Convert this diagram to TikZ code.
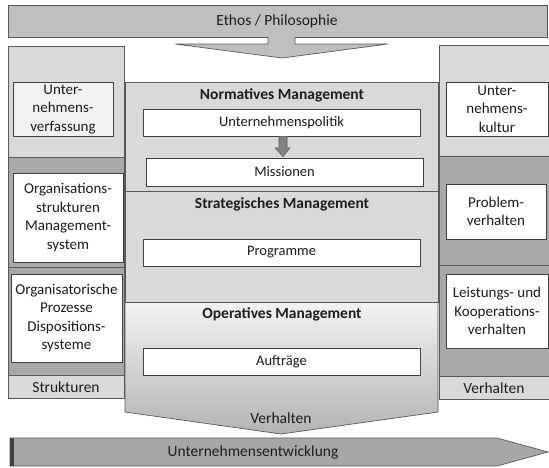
\documentclass[tikz,border=0pt]{standalone}
\usepackage{fontspec}
\setmainfont{Carlito}
\usetikzlibrary{calc}
\definecolor{txt}{HTML}{1C1C1C}
\definecolor{frameline}{HTML}{595959}
\definecolor{boxline}{HTML}{404040}
\definecolor{lightband}{HTML}{D9D9D9}
\definecolor{darkband}{HTML}{A9A9A9}
\definecolor{bannergray}{HTML}{BFBFBF}
\definecolor{devgray}{HTML}{A6A6A6}
\definecolor{softwhite}{HTML}{F2F2F2}
\begin{document}
\begin{tikzpicture}[x=1pt,y=-1pt,
  every node/.style={font=\fontsize{14.5}{18}\selectfont, text=txt},
  band/.style={draw=frameline, line width=0.7pt},
  wbox/.style={draw=boxline, fill=white, line width=0.8pt, inner sep=0pt, align=center},
  sidebox/.style={wbox, font=\fontsize{15}{18.5}\selectfont},
  title/.style={font=\fontsize{15.5}{18}\selectfont\bfseries},
  label/.style={font=\fontsize{15.5}{18}\selectfont}]
\useasboundingbox (0,0) rectangle (549,467);

% Ethos banner with its arrow into the management block
\draw[band, fill=bannergray] (8,5) rectangle (547,37);
\fill[bannergray] (268,36) -- (268,44) -- (175,44) -- (282,58) -- (388,44) -- (295,44) -- (295,36) -- cycle;
\draw[frameline, line width=0.7pt] (268,37) -- (268,44) -- (175,44) -- (282,58) -- (388,44) -- (295,44) -- (295,37);
\node[label] (ethos) at (277,21) {Ethos / Philosophie};

% left column: structures
\draw[band, fill=lightband] (8,46) rectangle (124,157);
\draw[band, fill=darkband] (8,157) rectangle (124,267);
\draw[band, fill=darkband] (8,267) rectangle (124,375);
\draw[band, fill=lightband] (8,375) rectangle (124,398);
\node[label] (strukturen) at (66,387) {Strukturen};

% right column: behaviour
\draw[band, fill=lightband] (439,45) rectangle (549,156);
\draw[band, fill=darkband] (439,156) rectangle (549,265);
\draw[band, fill=darkband] (439,265) rectangle (549,376);
\draw[band, fill=lightband] (439,376) rectangle (549,399);
\node[label] (verhaltenR) at (494,388) {Verhalten};

% central management block
\shade[top color=softwhite, bottom color=devgray!85] (125,302) -- (438,302) -- (438,412) -- (281,434) -- (125,412) -- cycle;
\draw[band] (125,302) -- (438,302) -- (438,412) -- (281,434) -- (125,412) -- cycle;
\draw[band, fill=lightband] (125,82) rectangle (438,191);
\draw[band, fill=lightband] (125,191) rectangle (438,302);
\node[title] (norm) at (282,95) {Normatives Management};
\node[title] (strat) at (282,204) {Strategisches Management};
\node[title] (oper) at (282,314) {Operatives Management};
\node[label] (verhaltenC) at (281,418) {Verhalten};

\node[wbox, minimum width=277, minimum height=27] (politik) at (281.5,122.5) {Unternehmenspolitik};
\node[wbox, minimum width=277, minimum height=28] (mission) at (284.5,172) {Missionen};
\node[wbox, minimum width=277, minimum height=27] (programme) at (281.5,252.5) {Programme};
\node[wbox, minimum width=277, minimum height=27] (auftraege) at (281.5,361.5) {Aufträge};

% block arrow from policy to missions
\draw[frameline, fill=frameline!75, line width=0.6pt]
  ($(politik.south)+(-2.5,0)$) -- ($(politik.south)+(-2.5,11.5)$) -- ($(politik.south)+(-6.5,11.5)$)
  -- ($(mission.north)+(-1.5,-1)$) -- ($(politik.south)+(8.5,11.5)$) -- ($(politik.south)+(5.5,11.5)$)
  -- ($(politik.south)+(5.5,0)$);

% boxes of the side columns
\node[sidebox, fill=softwhite, minimum width=100, minimum height=54] (verfassung) at (63,109) {Unter-\\nehmens-\\verfassung};
\node[sidebox, minimum width=110, minimum height=89] (orgstruk) at (68,217.5) {Organisations-\\strukturen\\Management-\\system};
\node[sidebox, minimum width=111, minimum height=88] (orgproz) at (66.5,318) {Organisatorische\\Prozesse\\Dispositions-\\systeme};
\node[sidebox, minimum width=102, minimum height=54] (kultur) at (497,109) {Unter-\\nehmens-\\kultur};
\node[sidebox, minimum width=100, minimum height=55] (problem) at (496,211.5) {Problem-\\verhalten};
\node[sidebox, minimum width=102, minimum height=74] (leistung) at (497,311) {Leistungs- und\\Kooperations-\\verhalten};

% development arrow along the bottom
\draw[band, fill=devgray] (10,438) -- (497,438) -- (548,452) -- (497,466) -- (10,466) -- cycle;
\fill[boxline] (10,438) rectangle (14,466);
\node[label] (entwicklung) at (253,452) {Unternehmensentwicklung};
\end{tikzpicture}
\end{document}
